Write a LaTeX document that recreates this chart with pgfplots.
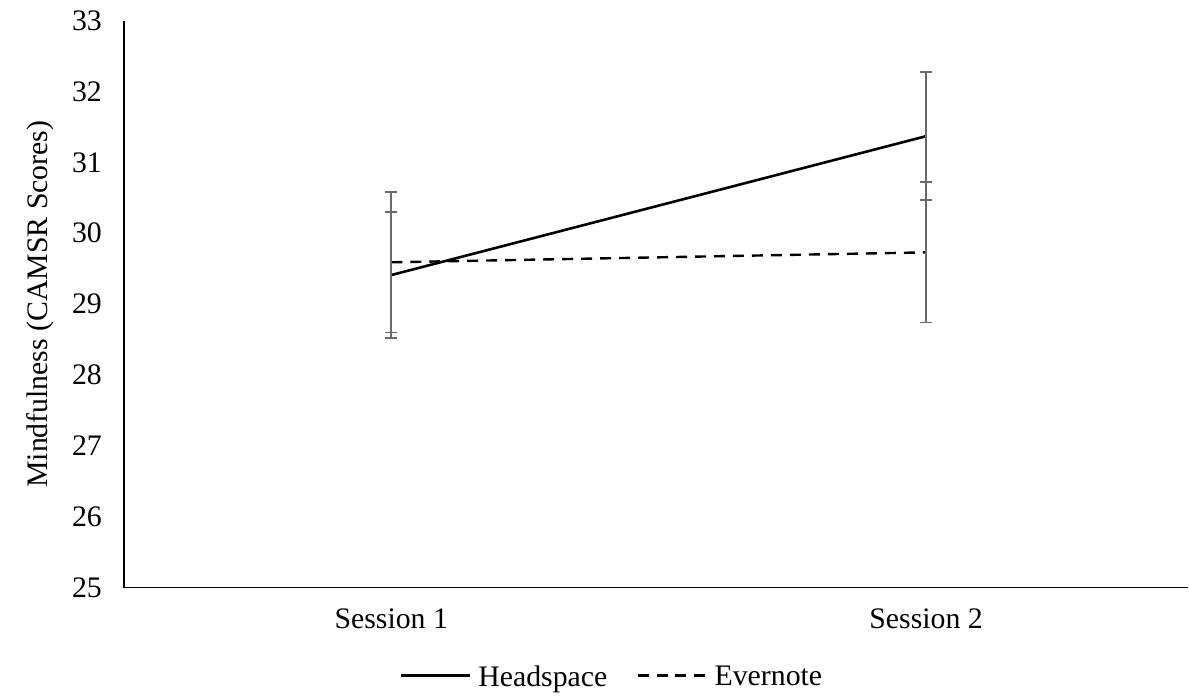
\documentclass[border=0pt]{standalone}
\usepackage{fontspec}
\setmainfont{Liberation Serif}
\usepackage{pgfplots}
\pgfplotsset{compat=1.18}
\usetikzlibrary{calc}
\definecolor{ebar}{HTML}{6A6A6A}
\begin{document}
\begin{tikzpicture}
\begin{axis}[
  scale only axis,
  width=532.5pt, height=283.65pt,
  xmin=0.5, xmax=2.49,
  ymin=25, ymax=33,
  ytick={25,26,...,33},
  xtick={1,2},
  xticklabels={Session 1, Session 2},
  axis lines*=left,
  axis line style={black, line width=0.9pt},
  major tick length=0pt,
  /pgf/number format/assume math mode=true,
  tick label style={font=\fontsize{14.9}{17}\selectfont},
  yticklabel style={xshift=-7.5pt},
  xticklabel style={yshift=-7pt},
  ylabel={Mindfulness (CAMSR Scores)},
  ylabel style={at={(axis description cs:-0.0789,0.5)}, anchor=center, font=\fontsize{14.9}{17}\selectfont},
  legend columns=2,
  legend style={draw=none, fill=none, at={(axis description cs:0.461,-0.1586)}, anchor=center,
    font=\fontsize{14.9}{17}\selectfont, column sep=0pt, nodes={inner xsep=3.5pt},
    /tikz/every even column/.append style={column sep=11pt}},
  legend image code/.code={\draw[#1] (0pt,1pt) -- (34.5pt,1pt);},
  clip=false,
]
\addplot[black, line width=1.3pt,
  error bars/.cd, y dir=both, y explicit,
  error bar style={ebar, line width=0.9pt, solid},
  error mark options={rotate=90, mark size=3pt, ebar, line width=0.9pt, solid}]
  coordinates {(1,29.41) +- (0,0.89) (2,31.37) +- (0,0.90)};
\addlegendentry{Headspace}
\addplot[black, line width=1.2pt, dash pattern=on 5.5pt off 4pt,
  error bars/.cd, y dir=both, y explicit,
  error bar style={ebar, line width=0.9pt, solid},
  error mark options={rotate=90, mark size=3pt, ebar, line width=0.9pt, solid}]
  coordinates {(1,29.59) +- (0,0.99) (2,29.73) +- (0,0.99)};
\addlegendentry{Evernote}
\end{axis}
\path ($(current axis.south west)+(-62pt,-54pt)$) rectangle ($(current axis.north east)+(0pt,10.35pt)$);
\end{tikzpicture}
\end{document}
